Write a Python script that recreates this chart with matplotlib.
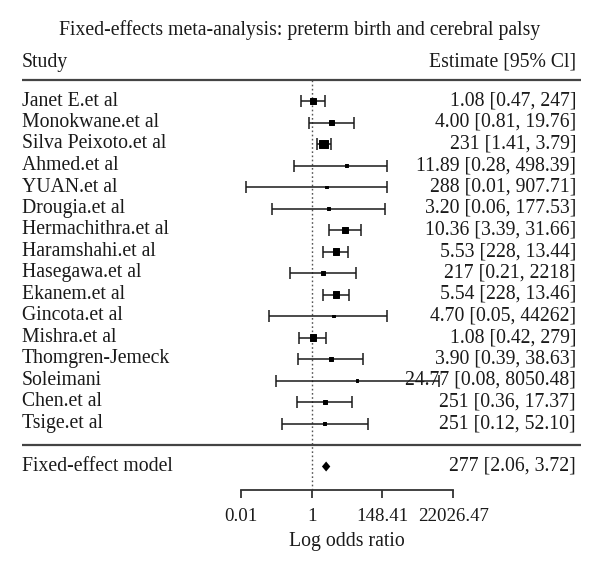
import numpy as np
import matplotlib
matplotlib.use("Agg")
import matplotlib.pyplot as plt

plt.rcParams['font.family'] = ['Liberation Serif', 'DejaVu Serif']

# study data (odds ratios)
studies = ["Janet E.et al", "Monokwane.et al", "Silva Peixoto.et al", "Ahmed.et al",
           "YUAN.et al", "Drougia.et al", "Hermachithra.et al", "Haramshahi.et al",
           "Hasegawa.et al", "Ekanem.et al", "Gincota.et al", "Mishra.et al",
           "Thomgren-Jemeck", "Soleimani", "Chen.et al", "Tsige.et al"]
odds_ratio = [1.08, 4.00, 2.31, 11.89, 2.88, 3.20, 10.36, 5.53,
              2.17, 5.54, 4.70, 1.08, 3.90, 24.77, 2.51, 2.51]
ci_lower = [0.47, 0.81, 1.41, 0.28, 0.01, 0.06, 3.39, 2.28,
            0.21, 2.28, 0.05, 0.42, 0.39, 0.08, 0.36, 0.12]
ci_upper = [2.47, 19.76, 3.79, 209.0, 209.0, 177.53, 31.66, 13.44,
            22.18, 13.46, 209.0, 2.79, 38.63, 8050.48, 17.37, 52.10]
estimate_labels = ["1.08 [0.47, 247]", "4.00 [0.81, 19.76]", "231 [1.41, 3.79]",
                   "11.89 [0.28, 498.39]", "288 [0.01, 907.71]", "3.20 [0.06, 177.53]",
                   "10.36 [3.39, 31.66]", "5.53 [228, 13.44]", "217 [0.21, 2218]",
                   "5.54 [228, 13.46]", "4.70 [0.05, 44262]", "1.08 [0.42, 279]",
                   "3.90 [0.39, 38.63]", "24.77 [0.08, 8050.48]", "251 [0.36, 17.37]",
                   "251 [0.12, 52.10]"]

pooled_name = "Fixed-effect model"
pooled_or = 2.77
pooled_lower = 2.06
pooled_upper = 3.72
pooled_label = "277 [2.06, 3.72]"

tick_log = [-5, 0, 5, 10]
tick_labels = ["0.01", "1", "148.41", "22026.47"]

title = "Fixed-effects meta-analysis: preterm birth and cerebral palsy"

# layout: x in log odds units, y in row units (row 0 = first study)
W, H = 600, 574
X0_PX, X_SCALE = 311.7, 14.16
Y0_PX, Y_SCALE = 101.0, 21.5

fig = plt.figure(figsize=(W / 100, H / 100), dpi=100)
ax = fig.add_axes([0, 0, 1, 1])
ax.set_xlim(-X0_PX / X_SCALE, (W - X0_PX) / X_SCALE)
ax.set_ylim((H - Y0_PX) / Y_SCALE, -Y0_PX / Y_SCALE)
for s in ['top', 'left', 'right']:
    ax.spines[s].set_visible(False)
ax.set_yticks([])

ink = '#1a1a1a'
fs = 14.2
left_x = 22 / W
right_x = 576 / W
trans = ax.get_yaxis_transform()

n = len(studies)
rows = np.arange(n)
pooled_row = n + 1
axis_row = 18.09

est = np.log(odds_ratio)
lo = np.log(ci_lower)
hi = np.log(ci_upper)

# box size from inverse-variance weight
se = (hi - lo) / 3.92
w = 1 / se ** 2
side_px = 8.4 * (w / w.max()) ** 0.25
side_pt = side_px * 0.72

ax.errorbar(est, rows, xerr=[est - lo, hi - est], fmt='none', ecolor=ink,
            elinewidth=1.1, capsize=4.2, capthick=1.1, zorder=2)
ax.scatter(est, rows, s=side_pt ** 2, marker='s', color='black', zorder=3,
           edgecolors='black', linewidths=0.7)

# pooled diamond
pe, pl, pu = np.log(pooled_or), np.log(pooled_lower), np.log(pooled_upper)
dh = 5.0 / Y_SCALE
ax.fill([pl, pe, pu, pe], [pooled_row, pooled_row - dh, pooled_row, pooled_row + dh],
        color='black', zorder=3, linewidth=0)

# reference line at OR = 1
ax.plot([0, 0], [-0.98, axis_row], color='#555555', linestyle=(0, (1.2, 1.8)),
        linewidth=1.0, zorder=1)

# header and rules
ax.text(0.5, -3.28, title, transform=trans, ha='center', va='center',
        fontsize=fs, color=ink)
ax.text(left_x, -1.8, "Study", transform=trans, ha='left', va='center',
        fontsize=fs, color=ink)
ax.text(right_x, -1.8, "Estimate [95% Cl]", transform=trans, ha='right',
        va='center', fontsize=fs, color=ink)
for r in [-0.98, 16.0]:
    ax.plot([22 / W, 581 / W], [r, r], transform=trans, color='#444444',
            linewidth=1.6, solid_capstyle='butt')

for i in range(n):
    ax.text(left_x, rows[i], studies[i], transform=trans, ha='left',
            va='center', fontsize=fs, color=ink)
    ax.text(right_x, rows[i], estimate_labels[i], transform=trans, ha='right',
            va='center', fontsize=fs, color=ink)

ax.text(left_x, pooled_row, pooled_name, transform=trans, ha='left',
        va='center', fontsize=fs, color=ink)
ax.text(right_x, pooled_row, pooled_label, transform=trans, ha='right',
        va='center', fontsize=fs, color=ink)

# x axis
ax.spines['bottom'].set_position(('data', axis_row))
ax.spines['bottom'].set_bounds(tick_log[0], tick_log[-1])
ax.spines['bottom'].set_color('#333333')
ax.spines['bottom'].set_linewidth(1.3)
ax.set_xticks(tick_log)
ax.set_xticklabels(tick_labels)
ax.tick_params(axis='x', direction='out', length=5.5, width=1.3, color='#333333',
               labelsize=13.6, labelcolor=ink, pad=7.5)
ax.text(2.5, 20.5, "Log odds ratio", ha='center', va='center', fontsize=fs,
        color=ink)

fig.savefig("out.png", dpi=100)
